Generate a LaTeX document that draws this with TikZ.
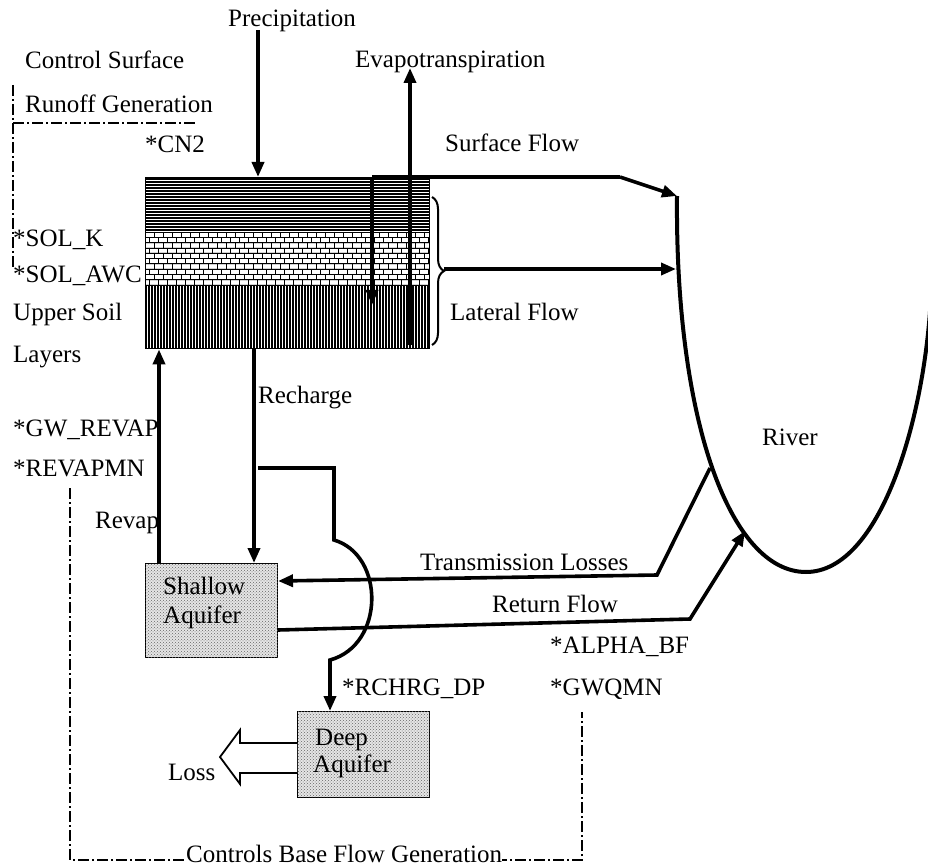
\documentclass[tikz,border=0pt]{standalone}
\usepackage{fontspec}
\setmainfont{Liberation Serif}
\usetikzlibrary{arrows.meta,decorations.pathreplacing,patterns}
\begin{document}
\begin{tikzpicture}[x=1pt,y=-1pt,
  lbl/.style={anchor=base west, inner sep=0pt, font=\fontsize{25}{28}\selectfont},
  flow/.style={line width=3.6pt, -{Triangle[length=15pt,width=12pt]}},
  ctrl/.style={line width=2.3pt, dash pattern=on 11pt off 3pt on 2pt off 3pt},
  box/.style={draw, line width=1pt, inner sep=0pt, anchor=north west},
  aqbox/.style={box, fill=gray!20, postaction={pattern=crosshatch dots, pattern color=black!60}}
]
\useasboundingbox (0,0) rectangle (928,866);

% ---- soil layers (patterns) ----
\foreach \y in {179,182,...,230} \draw[line width=1.05pt] (145,\y) -- (429,\y);
\fill[gray!35] (145,232) rectangle (429,285);
\foreach \i in {0,...,9} {
  \pgfmathsetmacro\ya{232+\i*5.3}
  \pgfmathsetmacro\off{mod(\i,2)*4.5}
  \fill[white] (145,\ya+1) rectangle (429,\ya+4.6);
  \draw[line width=0.75pt] (145,\ya) -- (429,\ya);
  \foreach \x in {0,9,...,279} \draw[line width=0.75pt] ({145+\off+\x},\ya) -- ++(0,5.3);
}
\draw[line width=0.75pt] (145,285) -- (429,285);
\foreach \x in {146,149,...,428} \draw[line width=1.05pt] (\x,285) -- (\x,348);
\node[box, line width=1.4pt, minimum width=284pt, minimum height=171pt] (soil) at (145,177) {};

% ---- aquifers ----
\node[aqbox, minimum width=132pt, minimum height=94pt] (shallow) at (145,563) {};
\node[aqbox, minimum width=132pt, minimum height=86pt] (deep) at (297,711) {};

% ---- control surfaces ----
\coordinate (cs1) at (13,85);
\coordinate (cs2) at (13,267);
\coordinate (cs3) at (13,123);
\coordinate (cs4) at (197,123);
\draw[ctrl] (cs1) -- (cs2);
\draw[ctrl] (cs3) -- (cs4);
\coordinate (bf1) at (70,488);
\coordinate (bf2) at (70,860);
\coordinate (bf3) at (582,860);
\coordinate (bf4) at (582,712);
\draw[ctrl] (bf1) -- (bf2) -- (bf3) -- (bf4);

% ---- river ----
\coordinate (rivTop) at (677,196);
\coordinate (rivBot) at (806,572);
\coordinate (rivEnd) at (931,295);
\draw[line width=4pt] (rivTop) .. controls (675,420) and (730,572) .. (rivBot)
   .. controls (880,572) and (925,420) .. (rivEnd);

% ---- flows ----
\coordinate (pr) at (258,30);
\draw[flow] (pr) -- (pr |- soil.north);
\coordinate (ev) at (410,68);
\coordinate (evb) at (410,345);
\draw[flow] (evb) -- (ev);
\coordinate (inf) at (372,305);
\coordinate (sfk) at (620,177);
\draw[line width=3.6pt] (inf |- soil.north) -- (sfk);
\draw[flow] (inf |- soil.north) -- (inf);
\draw[flow] (sfk) -- (rivTop);
\draw[line width=2pt, decorate, decoration={brace, amplitude=12pt}] (432,197) -- (432,345);
\coordinate (brtip) at (444,269);
\coordinate (rivL) at (676,269);
\draw[flow] (brtip) -- (rivL);

\coordinate (rc) at (254,0);
\draw[flow] (rc |- soil.south) -- (rc |- shallow.north);
\coordinate (rv) at (159,0);

\coordinate (dr1) at (258,468);
\coordinate (dr2) at (334,468);
\coordinate (dr3) at (334,540);
\coordinate (dr4) at (330,660);
\draw[flow] (dr1) -- (dr2) -- (dr3) .. controls (385,555) and (385,645) .. (dr4) -- (dr4 |- deep.north);

\coordinate (tl1) at (710,468);
\coordinate (tl2) at (657,575);
\coordinate (tl3) at (0,581);
\draw[flow] (tl1) -- (tl2) -- (shallow.east |- tl3);

\coordinate (rf0) at (0,630);
\coordinate (rf1) at (690,619);
\coordinate (rf2) at (745,531);
\draw[flow] (shallow.east |- rf0) -- (rf1) -- (rf2);

\coordinate (ls1) at (0,743);
\coordinate (ls2) at (0,773);
\draw[line width=1.8pt, fill=white] (deep.west |- ls1) -- (240,743) -- (240,730) -- (220,757)
   -- (240,784) -- (240,773) -- (deep.west |- ls2);

% ---- labels ----
\node[lbl] (tPrec) at (228,27) {Precipitation};
\node[lbl] (tCS) at (25,69) {Control Surface};
\node[lbl] (tRG) at (25,113) {Runoff Generation};
\node[lbl] (tEv) at (355,68) {Evapotranspiration};
\node[lbl] (tCN) at (145,153) {*CN2};
\node[lbl] (tSF) at (445,152) {Surface Flow};
\node[lbl] (tSK) at (13,247) {*SOL\_K};
\node[lbl] (tSA) at (13,283) {*SOL\_AWC};
\node[lbl] (tUS) at (13,320) {Upper Soil};
\node[lbl] (tLy) at (13,362) {Layers};
\node[lbl] (tLF) at (450,320) {Lateral Flow};
\node[lbl] (tRc) at (258,403) {Recharge};
\node[lbl] (tGR) at (13,436) {*GW\_REVAP};
\node[lbl] (tRM) at (13,476) {*REVAPMN};
\node[lbl] (tRv) at (95,528) {Revap};
\node[lbl] (tRiv) at (762,445) {River};
\node[lbl] (tTL) at (420,570) {Transmission Losses};
\node[lbl] (tRF) at (492,612) {Return Flow};
\node[lbl] (tAB) at (550,653) {*ALPHA\_BF};
\node[lbl] (tGQ) at (550,695) {*GWQMN};
\node[lbl] (tRD) at (342,695) {*RCHRG\_DP};
\node[lbl] (tSh1) at (163,594) {Shallow};
\node[lbl] (tSh2) at (163,623) {Aquifer};
\node[lbl] (tDp1) at (315,745) {Deep};
\node[lbl] (tDp2) at (313,772) {Aquifer};
\node[lbl] (tLoss) at (168,780) {Loss};
\node[lbl, fill=white] (tCB) at (186,862) {Controls Base Flow Generation};
% revap arrow drawn over the label it crosses
\draw[flow] (rv |- shallow.north) -- (rv |- soil.south);
\end{tikzpicture}
\end{document}
